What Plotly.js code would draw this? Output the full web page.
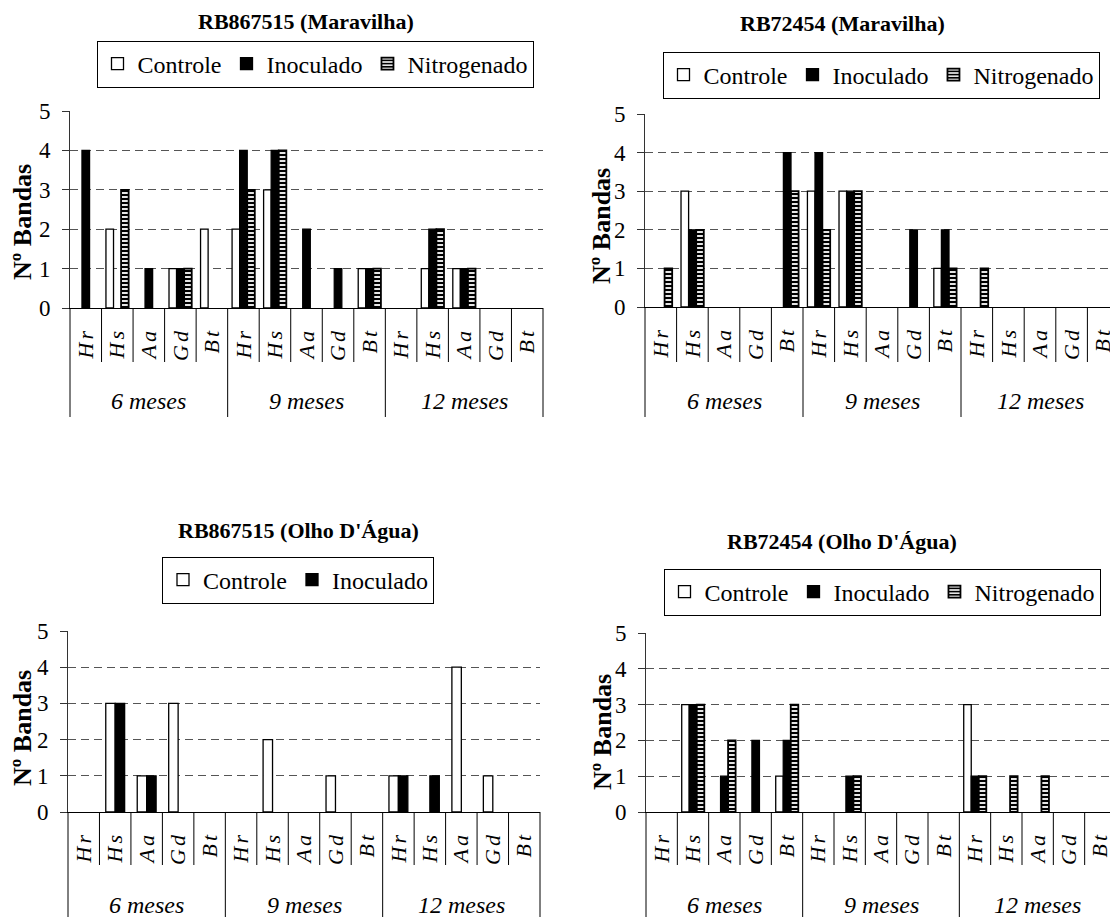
<!DOCTYPE html>
<html>
<head>
<meta charset="utf-8">
<script src="https://cdn.plot.ly/plotly-3.0.1.min.js"></script>
<style>
html, body { margin:0; padding:0; overflow:hidden; background:#fff; }
#chart { width:1125px; height:917px; }
.xtick text, .x2tick text, .x3tick text, .x4tick text { letter-spacing: 3px; }
</style>
</head>
<body>
<div id="chart"></div>
<script>
// ---------- DATA ----------
const periods = ['6 meses', '9 meses', '12 meses'];
const species = ['Hr', 'Hs', 'Aa', 'Gd', 'Bt'];
const seriesNames = ['Controle', 'Inoculado', 'Nitrogenado'];

const panelTitles = ['RB867515 (Maravilha)', 'RB72454 (Maravilha)', "RB867515 (Olho D'Água)", "RB72454 (Olho D'Água)"];
const yTitle = 'Nº Bandas';

// RB867515 (Maravilha)
const p1Controle    = [0, 2, 0, 1, 2,  2, 3, 0, 0, 1,  0, 1, 1, 0, 0];
const p1Inoculado   = [4, 0, 1, 1, 0,  4, 4, 2, 1, 1,  0, 2, 1, 0, 0];
const p1Nitrogenado = [0, 3, 0, 1, 0,  3, 4, 0, 0, 1,  0, 2, 1, 0, 0];
// RB72454 (Maravilha)
const p2Controle    = [0, 3, 0, 0, 0,  3, 3, 0, 0, 1,  0, 0, 0, 0, 0];
const p2Inoculado   = [0, 2, 0, 0, 4,  4, 3, 0, 2, 2,  0, 0, 0, 0, 0];
const p2Nitrogenado = [1, 2, 0, 0, 3,  2, 3, 0, 0, 1,  1, 0, 0, 0, 0];
// RB867515 (Olho D'Água)
const p3Controle    = [0, 3, 1, 3, 0,  0, 2, 0, 1, 0,  1, 0, 4, 1, 0];
const p3Inoculado   = [0, 3, 1, 0, 0,  0, 0, 0, 0, 0,  1, 1, 0, 0, 0];
// RB72454 (Olho D'Água)
const p4Controle    = [0, 3, 0, 0, 1,  0, 0, 0, 0, 0,  3, 0, 0, 0, 0];
const p4Inoculado   = [0, 3, 1, 2, 2,  0, 1, 0, 0, 0,  1, 0, 0, 0, 0];
const p4Nitrogenado = [0, 3, 2, 0, 3,  0, 1, 0, 0, 0,  1, 1, 1, 0, 0];

// ---------- LAYOUT GEOMETRY ----------
const W = 1125, H = 917;
const PX = v => v / W;
const PY = v => 1 - v / H;
const FONT = 'Liberation Serif';

const panels = [
  {series:[p1Controle, p1Inoculado, p1Nitrogenado], xl:70,  xr:543,  y0:308, y5:111, tX:306, tY:21,  lX:315, lY:64,  yl:[22,222],  divB:362, grpB:417, grpY:401},
  {series:[p2Controle, p2Inoculado, p2Nitrogenado], xl:645, xr:1119, y0:307, y5:114, tX:842, tY:23,  lX:881, lY:75,  yl:[602,226], divB:362, grpB:417, grpY:401},
  {series:[p3Controle, p3Inoculado],                xl:68,  xr:540,  y0:812, y5:631, tX:298, tY:530, lX:298, lY:580, yl:[22,728],  divB:865, grpB:940, grpY:905},
  {series:[p4Controle, p4Inoculado, p4Nitrogenado], xl:646, xr:1116, y0:812, y5:633, tX:842, tY:541, lX:882, lY:592, yl:[602,732], divB:865, grpB:940, grpY:905}
];

// category keys
const xcats = [];
const xtext = [];
periods.forEach(p => species.forEach(s => { xcats.push(p + ' ' + s); xtext.push(s); }));

const styles = [
  {color:'white', lw:1.3},
  {color:'black', lw:1.3},
  {color:'black', lw:1.8,
   pattern:{shape:'-', fgcolor:'white', bgcolor:'black', size:4, solidity:0.45, fillmode:'replace'}}
];

const traces = [];
const layout = {
  width: W, height: H,
  margin:{l:0, r:0, t:0, b:0},
  paper_bgcolor:'white', plot_bgcolor:'white',
  barmode:'overlay',
  font:{family:FONT, color:'black'},
  showlegend:true,
  shapes:[], annotations:[]
};

panels.forEach((P, i) => {
  const n = i + 1;
  const xa = 'x' + (n === 1 ? '' : n), ya = 'y' + (n === 1 ? '' : n);
  const xkey = 'xaxis' + (n === 1 ? '' : n), ykey = 'yaxis' + (n === 1 ? '' : n);
  const lkey = 'legend' + (n === 1 ? '' : n);
  const ns = P.series.length;
  const bw = ns === 3 ? 0.24 : 0.30;
  P.series.forEach((vals, k) => {
    const st = styles[k];
    const marker = {color:st.color, line:{color:'black', width:st.lw}};
    if (st.pattern) marker.pattern = st.pattern;
    traces.push({
      type:'bar', x:xcats,
      y:vals.map(v => v === 0 ? null : v),   // zero bands: no visible bar
      name:seriesNames[k],
      xaxis:xa, yaxis:ya, legend:lkey,
      width:bw, offset:-ns * bw / 2 + k * bw,
      marker:marker,
      hoverinfo:'skip'
    });
  });
  layout[xkey] = {
    domain:[PX(P.xl), PX(P.xr)], anchor:ya,
    type:'category', categoryorder:'array', categoryarray:xcats,
    range:[-0.5, 14.5],
    tickvals:xcats, ticktext:xtext, tickangle:-90,
    ticks:'', ticklabelstandoff:10,
    tickfont:{family:FONT, size:22, style:'italic', color:'black'},
    showline:true, linecolor:'black', linewidth:1.2,
    showgrid:false, zeroline:false, fixedrange:true
  };
  layout[ykey] = {
    domain:[PY(P.y0), PY(P.y5)], anchor:xa,
    range:[0, 5], dtick:1, tick0:0,
    ticks:'outside', ticklen:7, tickcolor:'#333', tickwidth:1,
    ticklabelstandoff:7,
    tickfont:{family:FONT, size:23, color:'black'},
    showline:true, linecolor:'#333', linewidth:1,
    showgrid:true, gridcolor:'#555', gridwidth:1, griddash:'8px,5px',
    zeroline:false, fixedrange:true
  };
  layout[lkey] = {
    x:PX(P.lX), y:PY(P.lY), xanchor:'center', yanchor:'middle',
    orientation:'h', bgcolor:'white', bordercolor:'black', borderwidth:1,
    font:{family:FONT, size:24, color:'black'},
    itemwidth:30, tracegroupgap:0, traceorder:'normal'
  };
  // dividers
  for (let k = 0; k <= 15; k++) {
    const grp = (k % 5 === 0);
    layout.shapes.push({
      type:'line', xref:xa + ' domain', yref:'paper',
      x0:k / 15, x1:k / 15, y0:PY(P.y0), y1:PY(grp ? P.grpB : P.divB),
      line:{color:'black', width:1}
    });
  }
  // period labels
  periods.forEach((p, g) => {
    layout.annotations.push({
      xref:xa, yref:'paper', x:xcats[g * 5 + 2], y:PY(P.grpY),
      text:p, showarrow:false, xanchor:'center', yanchor:'middle',
      font:{family:FONT, size:24, style:'italic', color:'black'}
    });
  });
  // panel title
  layout.annotations.push({
    xref:'paper', yref:'paper', x:PX(P.tX), y:PY(P.tY),
    text:'<b>' + panelTitles[i] + '</b>', showarrow:false,
    xanchor:'center', yanchor:'middle',
    font:{family:FONT, size:22, color:'black'}
  });
  // y title
  layout.annotations.push({
    xref:'paper', yref:'paper', x:PX(P.yl[0]), y:PY(P.yl[1]),
    text:'<b>' + yTitle + '</b>', showarrow:false, textangle:-90,
    xanchor:'center', yanchor:'middle',
    font:{family:FONT, size:26, color:'black'}
  });
});

Plotly.newPlot('chart', traces, layout, {displayModeBar:false, staticPlot:true});
</script>
</body>
</html>
